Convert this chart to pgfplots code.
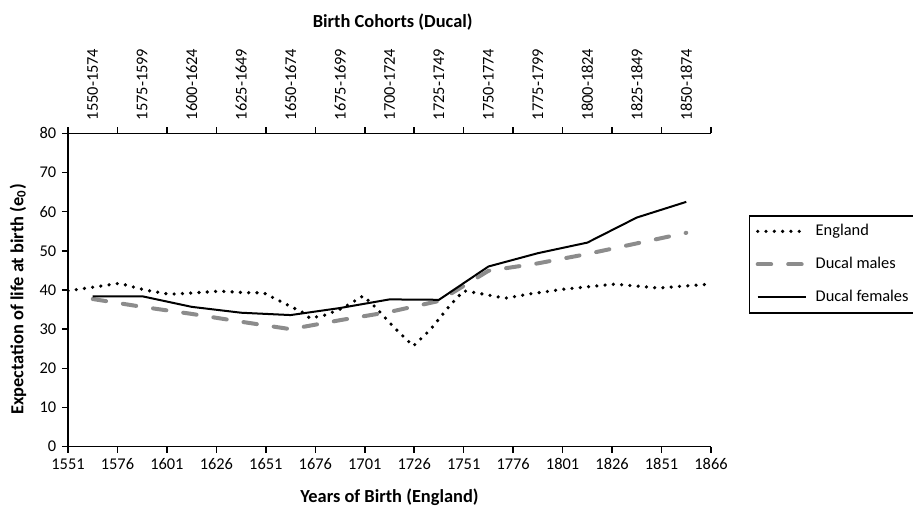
\documentclass[border=0pt]{standalone}
\usepackage{fontspec}
\setmainfont{Carlito}
\usepackage{pgfplots}
\pgfplotsset{compat=1.18}
\definecolor{malegray}{RGB}{140,140,140}
\begin{document}
\fontsize{8.2}{10}\selectfont
\begin{tikzpicture}
\begin{axis}[
  scale only axis, width=321.5pt, height=156.7pt,
  xmin=0, xmax=13, ymin=0, ymax=80,
  axis x line*=bottom, axis y line*=left,
  xtick={0,...,13},
  xticklabels={1551,1576,1601,1626,1651,1676,1701,1726,1751,1776,1801,1826,1851,1866},
  ytick={0,10,...,80},
  /pgf/number format/assume math mode=true,
  tick align=outside, major tick length=3pt,
  axis line style={line width=0.75pt, black},
  tick style={line width=0.75pt, black},
  ticklabel style={font=\fontsize{8.2}{10}\selectfont},
  xlabel={Years of Birth (England)},
  xlabel style={font=\fontsize{9.2}{11}\selectfont\bfseries, at={(axis description cs:0.5,-0.1605)}, anchor=center},
  ylabel={Expectation of life at birth (e\textsubscript{0})},
  ylabel style={font=\fontsize{9.2}{11}\selectfont\bfseries, at={(axis description cs:-0.0778,0.47)}, anchor=center, rotate=0},
  legend image code/.code={\draw[#1] (0pt,0pt) -- (24pt,0pt);},
  legend cell align=left,
  legend style={at={(axis description cs:1.059,0.739)}, anchor=north west,
    draw=black, line width=0.75pt, inner sep=3pt, row sep=7pt,
    font=\fontsize{8.2}{10}\selectfont,
    nodes={inner sep=1pt, text height=6pt, text depth=1.5pt},
    /tikz/every odd column/.append style={column sep=3pt}},
]
\addplot[black, line width=1.8pt, line cap=round, dash pattern=on 0pt off 4.15pt] coordinates {
(0,39.8)(0.5,40.7)(1.04,41.7)(1.56,40.0)(2.06,38.9)(2.57,39.3)(3.07,39.7)(3.61,39.3)(3.95,39.3)(4.42,36.3)(4.76,34.2)(4.89,32.8)(5.2,33.6)(5.54,35.3)(5.97,38.5)(6.24,35.3)(6.58,30.6)(6.98,25.7)(7.32,29.8)(7.73,36.2)(8.0,39.8)(8.33,39.1)(8.84,37.9)(9.34,39.0)(10.02,40.2)(10.73,41.1)(11.06,41.5)(11.77,40.7)(11.94,40.5)(12.45,41.0)(13,41.5)
};
\addlegendentry{England}
\addplot[malegray, line width=2pt, line cap=round, dash pattern=on 6.75pt off 8.5pt] coordinates {
(0.5,37.7)(1.5,35.7)(2.5,33.9)(3.5,31.9)(4.5,30.0)(5.5,32.3)(6.5,34.4)(7.5,37.2)(8.5,44.9)(9.5,46.8)(10.5,49.2)(11.5,51.9)(12.5,54.6)
};
\addlegendentry{Ducal males}
\addplot[black, line width=1pt] coordinates {
(0.5,38.4)(1.5,38.4)(2.5,35.7)(3.5,34.2)(4.5,33.6)(5.5,35.4)(6.5,37.6)(7.5,37.5)(8.5,46.0)(9.5,49.4)(10.5,52.1)(11.5,58.5)(12.5,62.5)
};
\addlegendentry{Ducal females}
\end{axis}
\begin{axis}[
  scale only axis, width=321.5pt, height=156.7pt,
  xmin=0, xmax=13, ymin=0, ymax=80,
  axis x line*=top, axis y line=none,
  xtick={0.5,1.5,...,12.5},
  xticklabels={1550-1574,1575-1599,1600-1624,1625-1649,1650-1674,1675-1699,1700-1724,1725-1749,1750-1774,1775-1799,1800-1824,1825-1849,1850-1874},
  minor xtick={0,...,13},
  tick align=outside, major tick length=0pt, minor tick length=3pt,
  axis line style={line width=0.75pt, black},
  tick style={line width=0.75pt, black},
  xticklabel shift=3.6pt,
  xticklabel style={font=\fontsize{8.2}{10}\selectfont, rotate=90, anchor=west},
  xlabel={Birth Cohorts (Ducal)},
  xlabel style={font=\fontsize{9.2}{11}\selectfont\bfseries, at={(axis description cs:0.505,1.355)}, anchor=center},
]
\end{axis}
\pgfresetboundingbox
\path[use as bounding box] (-34pt,-29.65pt) rectangle (422.5pt,223.35pt);
\end{tikzpicture}
\end{document}
